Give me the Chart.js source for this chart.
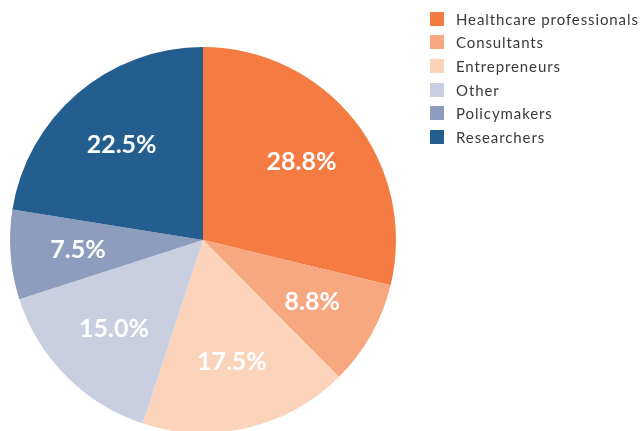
<!DOCTYPE html>
<html lang="en">
<head>
    <meta charset="UTF-8">
    <title>Respondents by group</title>
    <style>
        body {
            margin: 0;
            width: 643px;
            height: 431px;
            overflow: hidden;
            background: #ffffff;
            font-family: Lato, sans-serif;
        }

        #wrap {
            position: relative;
            width: 643px;
            height: 440px;
        }

        #pieChart {
            position: absolute;
            left: 0;
            top: 0;
        }

        #legend {
            position: absolute;
            left: 430px;
            top: 7px;
            list-style: none;
            margin: 0;
            padding: 0;
        }

        #legend li {
            display: flex;
            align-items: center;
            height: 23.6px;
            font-size: 15px;
            letter-spacing: 0.9px;
            color: #3a3a3a;
        }

        #legend .box {
            width: 14px;
            height: 14px;
            margin-right: 12px;
        }
    </style>
    <script src="https://cdn.jsdelivr.net/npm/chart.js"></script>
</head>
<body>

    <div id="wrap">
        <canvas id="pieChart" width="643" height="440"></canvas>
        <ul id="legend"></ul>
    </div>

    <script>
    // Anteile der Gruppen in Prozent
    const groups = ['Healthcare professionals', 'Consultants', 'Entrepreneurs', 'Other', 'Policymakers', 'Researchers'];
    const shares = [28.8, 8.8, 17.5, 15.0, 7.5, 22.5];
    const colors = ['#f47c43', '#f7a880', '#fbd3ba', '#c9cfe0', '#8c9dbe', '#235e8f'];

    // Legende als Liste neben dem Diagramm
    const legend = document.getElementById('legend');
    groups.forEach((name, i) => {
        const li = document.createElement('li');
        li.innerHTML = `<span class="box" style="background:${colors[i]}"></span>${name}`;
        legend.appendChild(li);
    });

    // Prozentwerte mittig in die Segmente schreiben
    const sliceLabels = {
        id: 'sliceLabels',
        afterDatasetsDraw(chart) {
            const ctx = chart.ctx;
            const meta = chart.getDatasetMeta(0);
            ctx.save();
            ctx.fillStyle = '#ffffff';
            ctx.font = 'bold 25px Lato';
            ctx.textAlign = 'center';
            ctx.textBaseline = 'middle';
            meta.data.forEach((arc, i) => {
                const p = arc.getProps(['x', 'y', 'startAngle', 'endAngle', 'outerRadius']);
                const mid = (p.startAngle + p.endAngle) / 2;
                const r = p.outerRadius * 0.65;
                ctx.fillText(shares[i].toFixed(1) + '%', p.x + Math.cos(mid) * r, p.y + Math.sin(mid) * r);
            });
            ctx.restore();
        }
    };

    new Chart(document.getElementById('pieChart'), {
        type: 'pie',
        data: {
            labels: groups,
            datasets: [{
                data: shares,
                backgroundColor: colors,
                borderWidth: 0
            }]
        },
        options: {
            responsive: false,
            animation: false,
            layout: {
                padding: { left: 10, top: 47, right: 247, bottom: 7 }
            },
            plugins: {
                legend: { display: false },
                tooltip: { enabled: false }
            }
        },
        plugins: [sliceLabels]
    });
    </script>
</body>
</html>
